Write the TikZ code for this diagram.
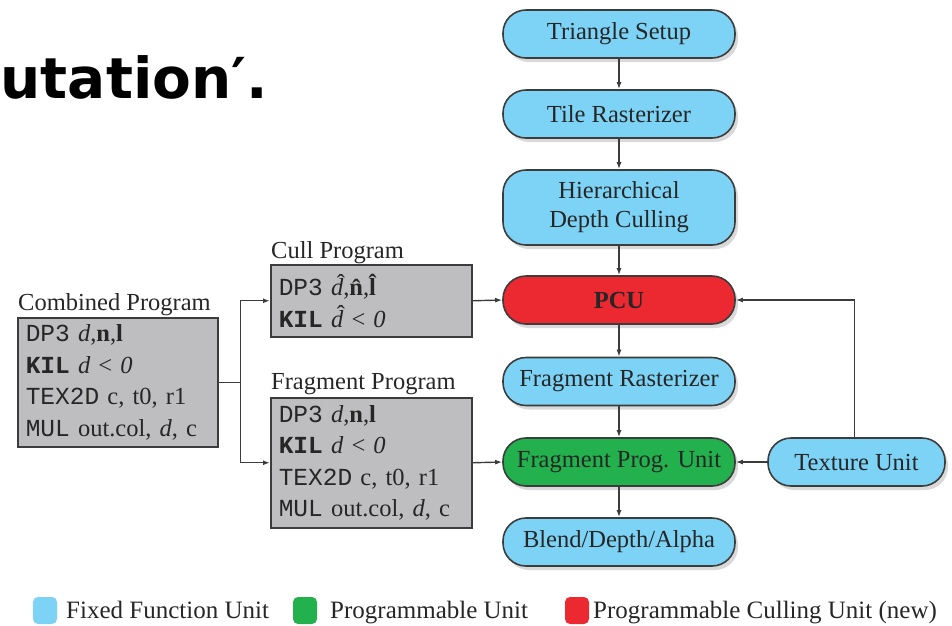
\documentclass[tikz,border=0pt]{standalone}
\usepackage{fontspec}
\setmainfont{Liberation Serif}
\setmonofont{Liberation Mono}
\newfontfamily\slidefont{DejaVu Sans}
\usetikzlibrary{arrows.meta,shadows}

\definecolor{fixblue}{HTML}{7DD3F5}
\definecolor{proggreen}{HTML}{22B14C}
\definecolor{cullred}{HTML}{EC2830}
\definecolor{codegray}{HTML}{BEBEC0}
\definecolor{edgegray}{HTML}{3C3C3C}

% italic d with a hat over it
\newcommand\hatd{\ooalign{\textit{d}\cr\hidewidth\kern0.3em\raisebox{0.2em}{^^^^02c6}\hidewidth\cr}}

\begin{document}
\begin{tikzpicture}[x=1pt,y=-1pt,>={Latex[length=7pt,width=5pt]},
 blk/.style={draw=edgegray,line width=1.6pt,rounded corners=23pt,minimum width=232pt,
  minimum height=48pt,align=center,text=black!85,font=\fontsize{24.5}{29}\selectfont,
  drop shadow={opacity=0.3,shadow xshift=3pt,shadow yshift=-4pt}},
 fixu/.style={blk,fill=fixblue},
 progu/.style={blk,fill=proggreen},
 cullu/.style={blk,fill=cullred},
 code/.style={draw=edgegray,line width=1.5pt,fill=codegray,anchor=north west,align=left,
  inner xsep=8pt,inner ysep=2pt,text=black!85,font=\fontsize{24.5}{31.5}\selectfont},
 ttl/.style={anchor=base west,inner sep=0pt,text=black!85,font=\fontsize{24.5}{29}\selectfont},
 key/.style={anchor=base west,inner sep=0pt,text=black!85,font=\fontsize{25}{29}\selectfont},
 arr/.style={->,draw=edgegray,line width=1.4pt},
 swatch/.style={rounded corners=5pt,minimum width=24pt,minimum height=27pt,inner sep=0pt}]

 \useasboundingbox (0,0) rectangle (952,625);

 % cut-off slide title
 \node[anchor=base east,inner sep=0pt,font=\slidefont\bfseries\fontsize{56.5}{58}\selectfont] (slide) at (268,98) {utation′.};

 % pipeline
 \node[fixu] (tri) at (619,34) {Triangle Setup};
 \node[fixu] (tile) at (619,114) {Tile Rasterizer};
 \node[fixu,minimum height=75pt] (hdc) at (619,207.5) {Hierarchical\\Depth Culling};
 \node[cullu] (pcu) at (619,300) {\textbf{PCU}};
 \node[fixu] (frast) at (619,381.5) {Fragment Rasterizer};
 \node[progu] (fpu) at (619,462) {Fragment Prog. Unit};
 \node[fixu] (blend) at (619,542) {Blend/Depth/Alpha};
 \node[fixu,minimum width=177pt] (tex) at (856.5,462) {Texture Unit};

 % programs
 \node[code,text width=184pt,minimum height=129pt] (cmb) at (17,317)
  {\texttt{DP3} \textit{d},\textbf{n},\textbf{l}\\
   \texttt{\textbf{KIL}} \textit{d} < \textit{0}\\
   \texttt{TEX2D} c, t0, r1\\
   \texttt{MUL} out.col, \textit{d}, c};
 \node[code,text width=185pt,minimum height=72pt] (cull) at (270,264)
  {\texttt{DP3} \hatd,\textbf{n^^^^0302},\textbf{l^^^^0302}\\
   \texttt{\textbf{KIL}} \hatd{} < \textit{0}};
 \node[code,text width=185pt,minimum height=130pt] (frag) at (270,397)
  {\texttt{DP3} \textit{d},\textbf{n},\textbf{l}\\
   \texttt{\textbf{KIL}} \textit{d} < \textit{0}\\
   \texttt{TEX2D} c, t0, r1\\
   \texttt{MUL} out.col, \textit{d}, c};
 \node[ttl] (cmblab) at ([xshift=1pt,yshift=7pt]cmb.north west) {Combined Program};
 \node[ttl] (cullab) at ([xshift=1pt,yshift=6pt]cull.north west) {Cull Program};
 \node[ttl] (fraglab) at ([xshift=1pt,yshift=8pt]frag.north west) {Fragment Program};

 % connectors
 \draw[arr] (tri) -- (tile);
 \draw[arr] (tile) -- (hdc);
 \draw[arr] (hdc) -- (pcu);
 \draw[arr] (pcu) -- (frast);
 \draw[arr] (frast) -- (fpu);
 \draw[arr] (fpu) -- (blend);
 \draw[arr] (tex) -- (fpu);
 \draw[arr] ([xshift=-2pt]tex.north) |- (pcu.east);
 \draw[draw=edgegray,line width=1.4pt] (cmb.east) -- ++(22,0) coordinate (split);
 \draw[arr] (split) |- (cull.west);
 \draw[arr] (split) |- (frag.west);
 \draw[arr] (cull.east) -- (pcu.west);
 \draw[arr] (frag.east) -- (fpu.west);

 % legend
 \node[swatch,fill=fixblue] (kfix) at (45,610.5) {};
 \node[swatch,fill=proggreen] (kprog) at (305,610.5) {};
 \node[swatch,fill=cullred] (kcull) at (577,610.5) {};
 \node[key] (lfix) at (66,618) {Fixed Function Unit};
 \node[key] (lprog) at (330,618) {Programmable Unit};
 \node[key] (lcull) at (593,618) {Programmable Culling Unit (new)};
\end{tikzpicture}
\end{document}
